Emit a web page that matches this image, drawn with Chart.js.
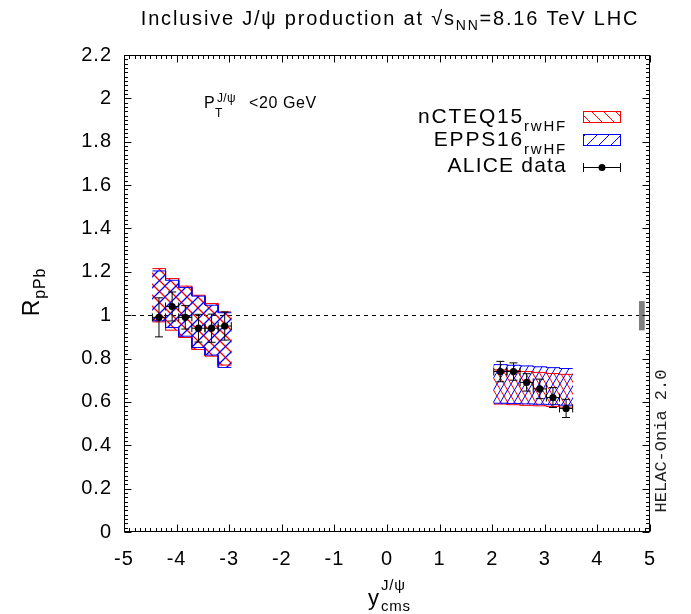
<!DOCTYPE html>
<html><head><meta charset="utf-8">
<script src="https://cdn.jsdelivr.net/npm/chart.js@4.4.1/dist/chart.umd.min.js"></script>
<style>html,body{margin:0;padding:0;background:#fff;} #wrap{width:691px;height:614px;position:relative;}</style>
</head><body><div id="wrap"><canvas id="c" width="691" height="614"></canvas></div>
<script>
// ---- data ----
const binEdgesBackward = [-4.46,-4.21,-3.96,-3.71,-3.46,-3.21,-2.96];
const binEdgesForward  = [2.03,2.28,2.53,2.78,3.03,3.28,3.53];
const nctUpB = [1.215,1.169,1.134,1.092,1.054,1.015];
const nctLoB = [0.969,0.931,0.897,0.842,0.811,0.770];
const eppUpB = [1.204,1.161,1.128,1.088,1.046,1.011];
const eppLoB = [0.974,0.943,0.903,0.851,0.816,0.759];
const nctUpF = [0.748,0.744,0.740,0.736,0.731,0.727];
const nctLoF = [0.590,0.587,0.584,0.582,0.579,0.576];
const eppUpF = [0.772,0.769,0.766,0.762,0.758,0.754];
const eppLoF = [0.594,0.593,0.591,0.589,0.587,0.585];
const aliceY   = [-4.335,-4.085,-3.835,-3.585,-3.335,-3.085, 2.155,2.405,2.655,2.905,3.155,3.405];
const aliceR   = [0.99,1.04,0.99,0.94,0.94,0.95, 0.74,0.74,0.69,0.66,0.62,0.57];
const aliceErr = [0.090,0.067,0.054,0.064,0.065,0.065, 0.047,0.040,0.040,0.045,0.046,0.042];
const aliceXErr = [0.125,0.125,0.125,0.125,0.125,0.125, 0.125,0.125,0.125,0.125,0.125,0.125];
const xTickValues = [-5,-4,-3,-2,-1,0,1,2,3,4,5];
const xTickLabels = ['-5','-4','-3','-2','-1','0','1','2','3','4','5'];
const yTickValues = [0,0.2,0.4,0.6,0.8,1,1.2,1.4,1.6,1.8,2,2.2];
const yTickLabels = ['0','0.2','0.4','0.6','0.8','1','1.2','1.4','1.6','1.8','2','2.2'];
const refLine = 1;
const normBox = [4.79, 4.90, 0.93, 1.065];
const xMinorStep = 0.1, yMinorStep = 0.02;

// ---- helpers ----
function stepPoints(edges, vals){
  const pts = [];
  vals.forEach((v,i)=>{ pts.push({x:edges[i], y:v}); pts.push({x:edges[i+1], y:v}); });
  return pts;
}
function binBars(edges, lo, hi){
  return lo.map((v,i)=>({x:(edges[i]+edges[i+1])/2, y:[v, hi[i]]}));
}
function hatch(color, dir, w, h, lw){
  const c = document.createElement('canvas'); c.width = w; c.height = h;
  const g = c.getContext('2d'); g.strokeStyle = color; g.lineWidth = lw || 1;
  g.beginPath();
  for (let k=-1;k<=1;k++){
    if (dir === '/') { g.moveTo(k*w, h); g.lineTo(k*w + w, 0); }
    else { g.moveTo(k*w, 0); g.lineTo(k*w + w, h); }
  }
  g.stroke();
  return g.createPattern(c, 'repeat');
}
const ctx0 = document.getElementById('c').getContext('2d');
const redB = hatch('#ff0000','\\',11,11,1.3), blueB = hatch('#0000ff','/',11,11,1.3);
const redF = hatch('#ff0000','\\',7,12,1), blueF = hatch('#0000ff','/',7,12,1);
const redL = hatch('#ff0000','\\',12,12,1), blueL = hatch('#0000ff','/',12,12,1);

const SANS = '"Liberation Sans", Arial, sans-serif';
function parts(ctx, x, y, list, align, ls){
  ctx.save();
  ctx.letterSpacing = (ls||0) + 'px';
  let total = 0;
  const ws = list.map(p => { ctx.font = p[1] + 'px ' + SANS; const w = ctx.measureText(p[0]).width; total += w; return w; });
  let cx = align === 'right' ? x - total : align === 'center' ? x - total/2 : x;
  ctx.fillStyle = '#000'; ctx.textBaseline = 'alphabetic'; ctx.textAlign = 'left';
  list.forEach((p,i) => { ctx.font = p[1] + 'px ' + SANS; ctx.fillText(p[0], cx, y + (p[2]||0)); cx += ws[i]; });
  ctx.restore();
}

const lineDs = (pts, color) => ({type:'line', data:pts, borderColor:color, borderWidth:1,
  pointRadius:0, fill:false, tension:0, order:1});
const barDs = (pts, bg) => ({type:'bar', data:pts, backgroundColor:bg, borderWidth:0,
  barPercentage:1, categoryPercentage:1, grouped:false, order:2});

const decor = {
  id:'decor',
  beforeDraw(chart){ chart.ctx.letterSpacing = '1px'; },
  beforeDatasetsDraw(chart){
    const {ctx, chartArea:a, scales:{x,y}} = chart;
    ctx.save();
    ctx.strokeStyle = '#000'; ctx.lineWidth = 1; ctx.setLineDash([4,4]);
    const py = Math.round(y.getPixelForValue(refLine)) + 0.5;
    ctx.beginPath(); ctx.moveTo(a.left, py); ctx.lineTo(a.right, py); ctx.stroke();
    ctx.setLineDash([]);
    ctx.fillStyle = '#808080';
    const x0 = x.getPixelForValue(normBox[0]), x1 = x.getPixelForValue(normBox[1]);
    const y0 = y.getPixelForValue(normBox[3]), y1 = y.getPixelForValue(normBox[2]);
    ctx.fillRect(x0, y0, x1-x0, y1-y0);
    ctx.restore();
  },
  afterDatasetsDraw(chart){
    const {ctx, chartArea:a, scales:{x,y}} = chart;
    ctx.save();
    ctx.strokeStyle = '#000'; ctx.lineWidth = 1;
    aliceY.forEach((xv,i)=>{
      const px = x.getPixelForValue(xv), py = y.getPixelForValue(aliceR[i]);
      const pt = y.getPixelForValue(aliceR[i]+aliceErr[i]), pb = y.getPixelForValue(aliceR[i]-aliceErr[i]);
      const pl = x.getPixelForValue(xv-aliceXErr[i]), pr = x.getPixelForValue(xv+aliceXErr[i]);
      ctx.beginPath();
      ctx.moveTo(px, pt); ctx.lineTo(px, pb);
      ctx.moveTo(px-4, pt); ctx.lineTo(px+4, pt);
      ctx.moveTo(px-4, pb); ctx.lineTo(px+4, pb);
      ctx.moveTo(pl, py); ctx.lineTo(pr, py);
      ctx.moveTo(pl, py-4); ctx.lineTo(pl, py+4);
      ctx.moveTo(pr, py-4); ctx.lineTo(pr, py+4);
      ctx.stroke();
    });
    const L = Math.round(a.left)+0.5, R = Math.round(a.right)-0.5, T = Math.round(a.top)+0.5, B = Math.round(a.bottom)-0.5;
    ctx.strokeRect(L, T, R-L, B-T);
    ctx.beginPath();
    const xmin = xTickValues[0], xmax = xTickValues[xTickValues.length-1];
    for (let k = 0; k <= Math.round((xmax-xmin)/xMinorStep); k++){
      const v = xmin + k*xMinorStep;
      const major = xTickValues.some(t => Math.abs(t-v) < 1e-6);
      const len = major ? 7 : 3.5;
      const px = Math.round(x.getPixelForValue(v)) + 0.5;
      ctx.moveTo(px, B); ctx.lineTo(px, B-len);
      ctx.moveTo(px, T); ctx.lineTo(px, T+len);
    }
    const ymin = yTickValues[0], ymax = yTickValues[yTickValues.length-1];
    for (let k = 0; k <= Math.round((ymax-ymin)/yMinorStep); k++){
      const v = ymin + k*yMinorStep;
      const major = yTickValues.some(t => Math.abs(t-v) < 1e-6);
      const len = major ? 7 : 3.5;
      const py = Math.round(y.getPixelForValue(v)) + 0.5;
      ctx.moveTo(L, py); ctx.lineTo(L+len, py);
      ctx.moveTo(R, py); ctx.lineTo(R-len, py);
    }
    ctx.stroke();
    ctx.restore();
  },
  afterDraw(chart){
    const {ctx} = chart;
    parts(ctx, 390, 25, [['Inclusive J/ψ production at √s',20,0],['NN',14,5],['=8.16 TeV LHC',20,0]], 'center', 1.8);
    ctx.save(); ctx.translate(39, 292); ctx.rotate(-Math.PI/2);
    parts(ctx, 0, 0, [['R',23,0],['pPb',16,6]], 'center', 0.8);
    ctx.restore();
    parts(ctx, 368, 605, [['y',22,0]], 'left', 0);
    parts(ctx, 381, 590, [['J/ψ',15,0]], 'left', 0.8);
    parts(ctx, 381, 611, [['cms',15,0]], 'left', 0.8);
    parts(ctx, 204, 108, [['P',16,0]], 'left', 0);
    parts(ctx, 215, 117, [['T',12,0]], 'left', 0);
    parts(ctx, 217, 102, [['J/ψ',12,0]], 'left', 0.3);
    parts(ctx, 249, 108, [['<20 GeV',16,0]], 'left', 0.6);
    parts(ctx, 567, 123, [['nCTEQ15',21,0],['rwHF',15,8]], 'right', 1.8);
    parts(ctx, 567, 146, [['EPPS16',21,0],['rwHF',15,8]], 'right', 1.8);
    parts(ctx, 567, 172, [['ALICE data',21,0]], 'right', 1.2);
    ctx.save();
    ctx.lineWidth = 1;
    ctx.fillStyle = redL; ctx.fillRect(583, 111, 38, 11);
    ctx.strokeStyle = '#ff0000'; ctx.strokeRect(583.5, 111.5, 37, 11);
    ctx.fillStyle = blueL; ctx.fillRect(583, 134, 38, 11);
    ctx.strokeStyle = '#0000ff'; ctx.strokeRect(583.5, 134.5, 37, 11);
    ctx.strokeStyle = '#000';
    ctx.beginPath();
    ctx.moveTo(583, 167.5); ctx.lineTo(621, 167.5);
    ctx.moveTo(583.5, 163); ctx.lineTo(583.5, 172);
    ctx.moveTo(620.5, 163); ctx.lineTo(620.5, 172);
    ctx.stroke();
    ctx.fillStyle = '#000'; ctx.beginPath(); ctx.arc(602, 167.5, 3.5, 0, Math.PI*2); ctx.fill();
    ctx.translate(666, 441); ctx.rotate(-Math.PI/2);
    ctx.letterSpacing = '0px';
    ctx.font = '17px "Liberation Mono", "DejaVu Sans Mono", monospace';
    ctx.fillStyle = '#222'; ctx.textAlign = 'center'; ctx.textBaseline = 'alphabetic';
    ctx.fillText('HELAC-Onia 2.0', 0, 0);
    ctx.restore();
  }
};

new Chart(ctx0, {
  type:'scatter',
  data:{ datasets:[
    {type:'scatter', data: aliceY.map((v,i)=>({x:v, y:aliceR[i]})), backgroundColor:'#000', borderColor:'#000', pointRadius:3.6, pointBorderWidth:0, order:0},
    lineDs(stepPoints(binEdgesBackward, eppUpB), '#0000ff'),
    lineDs(stepPoints(binEdgesBackward, eppLoB), '#0000ff'),
    lineDs(stepPoints(binEdgesBackward, nctUpB), '#ff0000'),
    lineDs(stepPoints(binEdgesBackward, nctLoB), '#ff0000'),
    lineDs(stepPoints(binEdgesForward, eppUpF), '#0000ff'),
    lineDs(stepPoints(binEdgesForward, eppLoF), '#0000ff'),
    lineDs(stepPoints(binEdgesForward, nctUpF), '#ff0000'),
    lineDs(stepPoints(binEdgesForward, nctLoF), '#ff0000'),
    barDs(binBars(binEdgesBackward, eppLoB, eppUpB), blueB),
    barDs(binBars(binEdgesBackward, nctLoB, nctUpB), redB),
    barDs(binBars(binEdgesForward, eppLoF, eppUpF), blueF),
    barDs(binBars(binEdgesForward, nctLoF, nctUpF), redF)
  ]},
  options:{
    responsive:false, animation:false, devicePixelRatio:1,
    layout:{padding:{top:55, right:41, left:0, bottom:0}},
    plugins:{legend:{display:false}, title:{display:false}, tooltip:{enabled:false}},
    scales:{
      x:{type:'linear', min:-5, max:5, offset:false,
        afterBuildTicks: ax => { ax.ticks = xTickValues.map(v=>({value:v})); },
        afterFit: ax => { ax.height = 82; },
        grid:{display:false, drawTicks:false, offset:false}, border:{display:false},
        ticks:{color:'#000', font:{family:SANS, size:20}, padding:15, maxRotation:0, autoSkip:false,
          callback:(v,i)=>xTickLabels[i]}},
      y:{type:'linear', min:0, max:2.2,
        afterBuildTicks: ax => { ax.ticks = yTickValues.map(v=>({value:v})); },
        afterFit: ax => { ax.width = 124; },
        grid:{display:false, drawTicks:false}, border:{display:false},
        ticks:{color:'#000', font:{family:SANS, size:20}, padding:12, autoSkip:false,
          callback:(v,i)=>yTickLabels[i]}}
    }
  },
  plugins:[decor]
});
</script></body></html>
